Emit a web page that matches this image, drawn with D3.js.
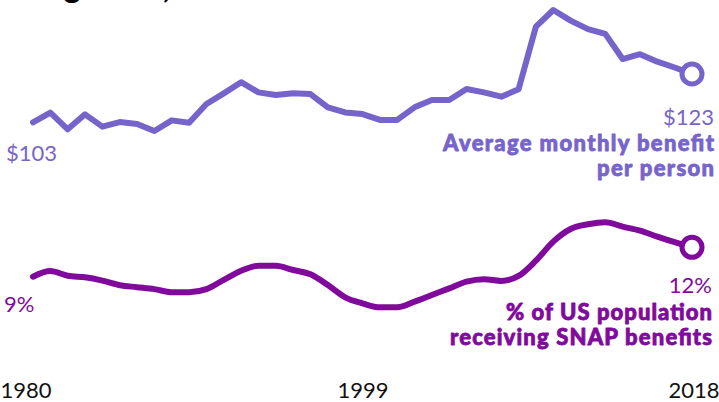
<!DOCTYPE html>
<html>
<head>
<meta charset="utf-8">
<script src="https://cdn.jsdelivr.net/npm/d3@7/dist/d3.min.js"></script>
<style>
  html, body { margin: 0; padding: 0; background: #fff; }
  svg { display: block; }
  text { font-family: Lato, "Open Sans", sans-serif; }
</style>
</head>
<body>
<svg id="chart" width="719" height="402"></svg>
<script>
// Years shown on the chart
const years = d3.range(1980, 2019);

// Average monthly SNAP benefit per person (dollars)
const benefit = [
  103, 107.0, 100.1, 106.3, 101.2, 103.1, 102.3, 99.4, 103.8, 102.8,
  110.6, 115.0, 119.6, 115.4, 114.3, 115.0, 114.7, 109.2, 107.1, 106.4,
  104.0, 104.0, 109.2, 112.2, 112.2, 116.8, 115.4, 113.6, 116.7, 142.6,
  149.5, 145.1, 141.6, 139.6, 129.2, 131.2, 128.1, 125.7, 123
];

// Share of US population receiving SNAP benefits (percent)
const share = [
  9.0, 9.58, 9.10, 8.94, 8.60, 8.13, 7.93, 7.73, 7.42, 7.42,
  7.73, 8.68, 9.61, 10.12, 10.12, 9.68, 9.24, 8.15, 6.89, 6.28,
  5.87, 5.87, 6.45, 7.13, 7.81, 8.49, 8.74, 8.57, 9.08, 10.64,
  12.58, 13.87, 14.35, 14.56, 14.11, 13.70, 13.09, 12.52, 12.0
];

const tickYears = [1980, 1999, 2018];

const benefitColor = "#7764cb";
const shareColor = "#7f0a9b";

const svg = d3.select("#chart");

// Headline sits above the visible area; only its descenders peek in
svg.append("text")
  .attr("x", 0)
  .attr("y", -2)
  .attr("font-size", 32)
  .attr("font-weight", 900)
  .attr("fill", "#000")
  .text("Using more,");

const x = d3.scaleLinear().domain([1980, 2018]).range([33, 692]);
const yBenefit = d3.scaleLinear().domain([103, 123]).range([122.3, 74]);
const yShare = d3.scaleLinear().domain([9, 12]).range([276.7, 247.3]);

function drawSeries(values, y, color, curve) {
  const line = d3.line()
    .x((d, i) => x(years[i]))
    .y(d => y(d))
    .curve(curve);
  svg.append("path")
    .datum(values)
    .attr("d", line)
    .attr("fill", "none")
    .attr("stroke", color)
    .attr("stroke-width", 6)
    .attr("stroke-linejoin", "round")
    .attr("stroke-linecap", "round");
  const last = values.length - 1;
  svg.append("circle")
    .attr("cx", x(years[last]))
    .attr("cy", y(values[last]))
    .attr("r", 10)
    .attr("fill", "#fff")
    .attr("stroke", color)
    .attr("stroke-width", 5);
}

drawSeries(benefit, yBenefit, benefitColor, d3.curveLinear);
drawSeries(share, yShare, shareColor, d3.curveMonotoneX);

// Value labels at both ends
const fmtDollar = v => "$" + d3.format(".0f")(v);
const fmtPct = v => d3.format(".0f")(v) + "%";

svg.append("text")
  .attr("x", 6).attr("y", 161)
  .attr("font-size", 22).attr("font-weight", 400)
  .attr("fill", benefitColor)
  .text(fmtDollar(benefit[0]));

svg.append("text")
  .attr("x", 714).attr("y", 125)
  .attr("text-anchor", "end")
  .attr("font-size", 22).attr("font-weight", 400)
  .attr("fill", benefitColor)
  .text(fmtDollar(benefit[benefit.length - 1]));

svg.append("text")
  .attr("x", 4).attr("y", 312)
  .attr("font-size", 22).attr("font-weight", 400)
  .attr("fill", shareColor)
  .text(fmtPct(share[0]));

svg.append("text")
  .attr("x", 712).attr("y", 293)
  .attr("text-anchor", "end")
  .attr("font-size", 22).attr("font-weight", 400)
  .attr("fill", shareColor)
  .text(fmtPct(share[share.length - 1]));

// Series names, one text element per line, set wide and heavy
function seriesName(lines, widths, x0, y0, step, color) {
  lines.forEach((s, i) => {
    svg.append("text")
      .attr("x", x0)
      .attr("y", y0 + i * step)
      .attr("text-anchor", "end")
      .attr("font-size", 22)
      .attr("font-weight", 900)
      .attr("textLength", widths[i])
      .attr("lengthAdjust", "spacing")
      .attr("fill", color)
      .attr("stroke", color)
      .attr("stroke-width", 0.8)
      .attr("stroke-linejoin", "round")
      .text(s);
  });
}
seriesName(["Average monthly benefit", "per person"], [271, 117], 714, 151, 25, benefitColor);
seriesName(["% of US population", "receiving SNAP benefits"], [206, 262], 712, 320, 25, shareColor);

// Year axis
const axis = d3.axisBottom(x)
  .tickValues(tickYears)
  .tickFormat(d3.format("d"))
  .tickSize(0)
  .tickPadding(0);

const gAxis = svg.append("g")
  .attr("transform", "translate(0,378)")
  .call(axis);
gAxis.select(".domain").remove();
gAxis.selectAll("text")
  .style("font-family", "Lato, 'Open Sans', sans-serif")
  .attr("font-size", 22)
  .attr("fill", "#111")
  .attr("dy", "0.9em")
  .attr("text-anchor", d => d === 1980 ? "start" : d === 2018 ? "end" : "middle")
  .attr("x", d => d === 1980 ? -33 : d === 2018 ? 27 : 0);
</script>
</body>
</html>
